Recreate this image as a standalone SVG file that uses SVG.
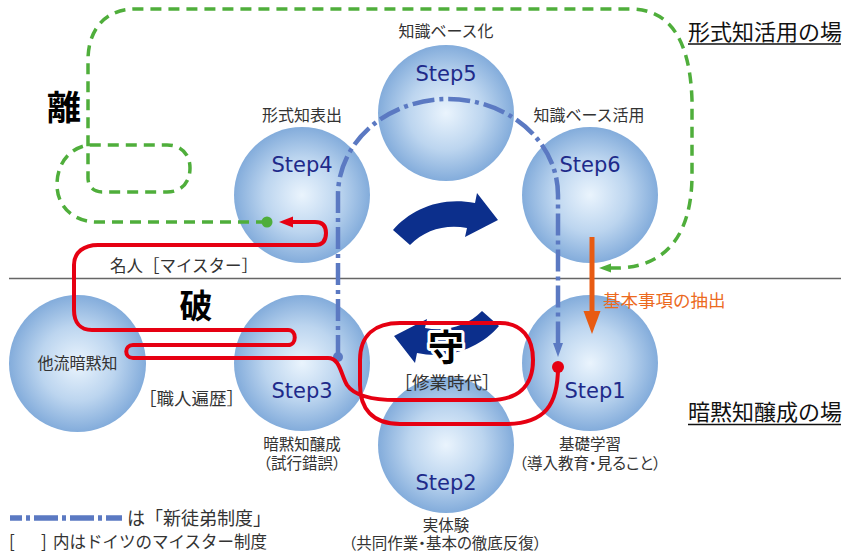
<svg xmlns="http://www.w3.org/2000/svg" width="846" height="552" viewBox="0 0 846 552">
<defs>
<radialGradient id="ball" cx="0.5" cy="0.5" r="0.5">
<stop offset="0" stop-color="#eaf4fd"/>
<stop offset="0.55" stop-color="#bcd5ef"/>
<stop offset="1" stop-color="#83acdb"/>
</radialGradient>
<marker id="ahRed" markerUnits="userSpaceOnUse" markerWidth="16" markerHeight="12" refX="1" refY="6" orient="auto">
<path d="M0,0.5 L14,6 L0,11.5 Z" fill="#e60012"/>
</marker>
<marker id="ahBlue" markerUnits="userSpaceOnUse" markerWidth="16" markerHeight="12" refX="1" refY="6" orient="auto">
<path d="M0,1 L14,6 L0,11 Z" fill="#5b79c2"/>
</marker>
<marker id="ahGreen" markerUnits="userSpaceOnUse" markerWidth="14" markerHeight="12" refX="1" refY="6" orient="auto">
<path d="M0,1.5 L12,6 L0,10.5 Z" fill="#4fae3b"/>
</marker>
<path id="bend" d="M 393 230 C 410 210 440 196 475 203 L 477 193 L 498 220 L 465 237 L 467 228 C 445 224 425 230 410 245 Z"/>
</defs>
<style>
.ball{fill:url(#ball)}
.step{font-family:"DejaVu Sans",sans-serif;font-size:21px;fill:#1e2a8a;text-anchor:middle}
.jp{font-family:"Noto Sans CJK JP",sans-serif;font-size:16px;fill:#333;text-anchor:middle}
.sub{font-size:15.5px}
.palt{font-feature-settings:"palt"}
.big{font-family:"Noto Sans CJK JP",sans-serif;font-weight:bold;fill:#000;text-anchor:middle}
.place{font-family:"Noto Sans CJK JP",sans-serif;font-size:22px;fill:#111}
.red{fill:none;stroke:#e60012;stroke-width:4;stroke-linejoin:round}
.blue{fill:none;stroke:#5b79c2;stroke-width:4.5;stroke-dasharray:22 5 4 5}
.green{fill:none;stroke:#4fae3b;stroke-width:3.5;stroke-dasharray:11 7}
.navy{fill:#0c2f8c}
</style>
<rect width="846" height="552" fill="#fff"/>

<line x1="9" y1="278.5" x2="841" y2="278.5" stroke="#666" stroke-width="1.5"/>

<g id="step5"><circle class="ball" cx="446" cy="113" r="68"/><text class="step" x="446" y="81">Step5</text><text class="jp" x="446" y="37">知識ベース化</text></g>
<g id="step4"><circle class="ball" cx="302" cy="195" r="68"/><text class="step" x="302" y="172">Step4</text><text class="jp" x="302" y="121">形式知表出</text></g>
<g id="step6"><circle class="ball" cx="590" cy="195" r="68"/><text class="step" x="590" y="172">Step6</text><text class="jp" x="589" y="121">知識ベース活用</text></g>
<g id="step3"><circle class="ball" cx="302" cy="363" r="68"/><text class="step" x="302" y="398">Step3</text><text class="jp sub"><tspan x="302" y="450">暗黙知醸成</tspan><tspan class="palt" x="302" y="469">（試行錯誤）</tspan></text></g>
<g id="step1"><circle class="ball" cx="590" cy="363" r="68"/><text class="step" x="595" y="398">Step1</text><text class="jp sub"><tspan x="590" y="450">基礎学習</tspan><tspan class="palt" x="590" y="469">（導入教育・見ること）</tspan></text></g>
<g id="step2"><circle class="ball" cx="446" cy="445" r="68"/><text class="step" x="446" y="490">Step2</text><text class="jp sub"><tspan x="446" y="531">実体験</tspan><tspan class="palt" x="445" y="549">（共同作業・基本の徹底反復）</tspan></text></g>
<g id="taryu"><circle class="ball" cx="77.5" cy="363.5" r="68.5"/><text class="jp" x="77.5" y="369">他流暗黙知</text></g>

<g id="cycle-arrows">
<use href="#bend" class="navy"/>
<use href="#bend" class="navy" transform="rotate(180 446 278)"/>
</g>

<g id="labels">
<text class="big" x="64" y="120" font-size="34">離</text>
<text class="big" x="196" y="318" font-size="33">破</text>
<text class="big" x="446" y="361" font-size="36" stroke="#fff" stroke-width="6" stroke-linejoin="round" paint-order="stroke">守</text>
<text class="jp" x="110" y="272" style="text-anchor:start;font-size:16.5px">名人［マイスター］</text>
<text class="jp" x="139" y="405" style="text-anchor:start;font-size:17.5px">［職人遍歴］</text>
<text class="jp" x="447" y="389" style="font-size:17.5px">［修業時代］</text>
<text class="jp" x="603" y="307" style="text-anchor:start;font-size:17.5px;fill:#ec6a1e">基本事項の抽出</text>
<text class="place" x="688" y="40">形式知活用の場</text>
<line x1="688" y1="44" x2="841" y2="44" stroke="#111" stroke-width="1.5"/>
<text class="place" x="688" y="420">暗黙知醸成の場</text>
<line x1="688" y1="424.5" x2="841" y2="424.5" stroke="#111" stroke-width="1.5"/>
</g>

<g id="connectors">
<path class="blue" d="M 338 357 V 195 A 110 96 0 0 1 558 195 V 344" marker-end="url(#ahBlue)"/>
<circle cx="338" cy="357" r="5" fill="#5b79c2"/>
<path class="red" d="M 558 367 C 558 405 545 424 505 424 H 400 C 372 424 360 408 360 385 V 360 C 360 335 375 323 400 323 H 500 C 522 323 533 338 533 360 C 533 386 518 400 490 400 H 397 C 375 400 355 397 347 385 C 341 375 340 358 328 358 H 133 C 124 358 124 345 133 345 H 288 C 297 345 297 330 288 330 H 92 C 80 330 74 322 74 310 V 265 C 74 252 84 245 98 245 H 315 C 323 245 326 240 326 233 C 326 226 323 222 315 222 H 292" marker-end="url(#ahRed)"/>
<circle cx="558" cy="367" r="6" fill="#e60012"/>
<path class="green" d="M 267 222 H 97 C 72 222 57 205 57 185 C 57 163 70 148 88 145 H 167 C 182 145 190 155 190 168 C 190 182 182 192 167 192 H 102 C 93 192 88 186 88 178 V 60 C 88 30 105 9 135 9 H 630 C 670 9 690 40 692 100 V 175 C 692 232 668 266 620 268 L 610 268" marker-end="url(#ahGreen)"/>
<circle cx="267" cy="222" r="5.5" fill="#4fae3b"/>
<line x1="592" y1="237" x2="592" y2="312" stroke="#e85b12" stroke-width="5"/>
<polygon points="583.5,311 600.5,311 592,334" fill="#e85b12"/>
</g>

<g id="legend">
<line x1="10" y1="518" x2="122" y2="518" stroke="#5b79c2" stroke-width="5.5" stroke-dasharray="24 4 4 4" stroke-dashoffset="12"/>
<text class="jp" x="127" y="525" style="text-anchor:start;font-size:18px">は「新徒弟制度」</text>
<text class="jp" x="9" y="548" style="text-anchor:start;font-size:17px">[</text>
<text class="jp" x="41" y="548" style="text-anchor:start;font-size:17px">]</text>
<text class="jp" x="53" y="548" style="text-anchor:start;font-size:16.5px">内はドイツのマイスター制度</text>
</g>
</svg>
